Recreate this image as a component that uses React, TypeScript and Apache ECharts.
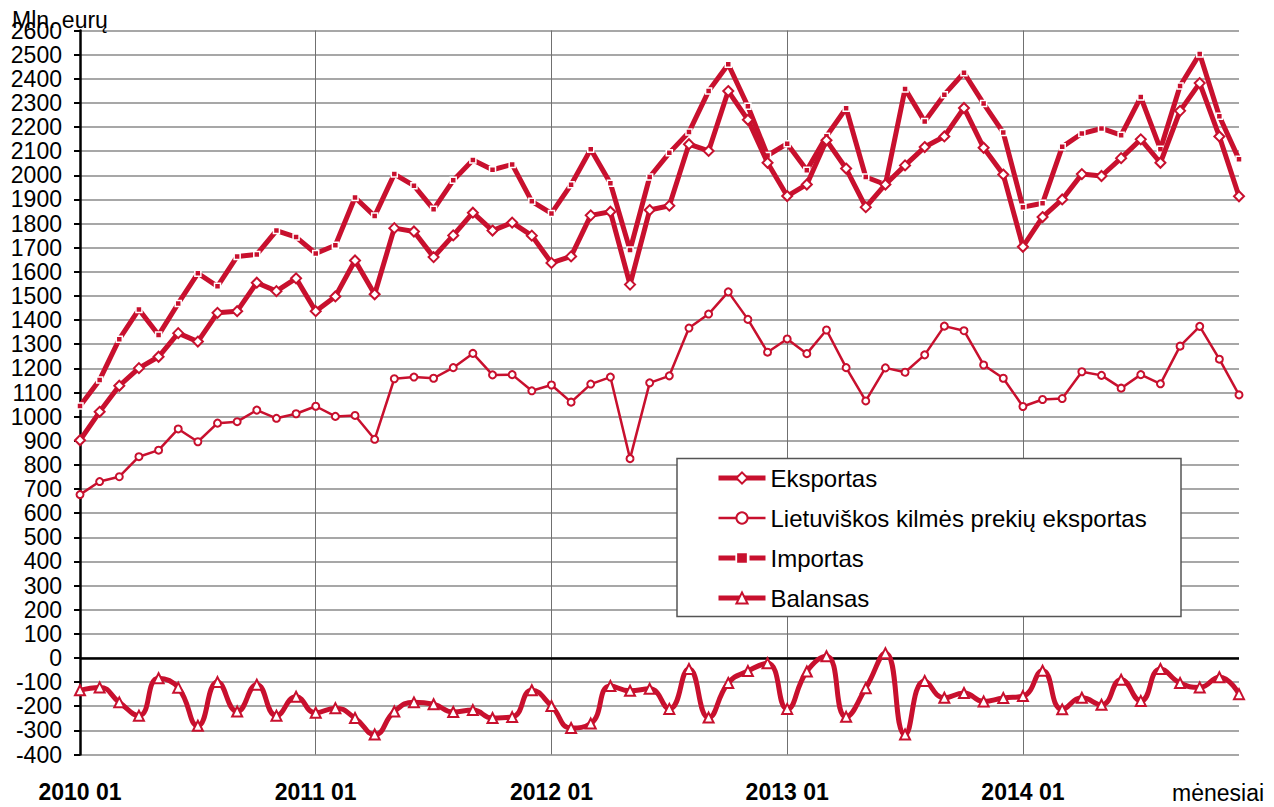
import React, { useEffect, useRef } from "react";
import * as echarts from "echarts";

const years = ["2010", "2011", "2012", "2013", "2014"];
const months = ["01", "02", "03", "04", "05", "06", "07", "08", "09", "10", "11", "12"];
const categories: string[] = [];
years.forEach((y) => months.forEach((m) => categories.push(y + " " + m)));

const eksportas = [
  902, 1020, 1128, 1201, 1248, 1346, 1311, 1430, 1437, 1555,
  1520, 1573, 1437, 1498, 1647, 1507, 1781, 1767, 1661, 1751,
  1845, 1771, 1804, 1750, 1637, 1664, 1834, 1849, 1547, 1856,
  1874, 2129, 2101, 2349, 2230, 2052, 1914, 1962, 2145, 2028,
  1868, 1962, 2041, 2117, 2161, 2279, 2114, 2003, 1704, 1827,
  1900, 2005, 1997, 2071, 2149, 2052, 2267, 2382, 2161, 1913,
];

const lietuviskos = [
  677, 731, 751, 834, 861, 949, 896, 973, 979, 1027,
  993, 1012, 1043, 1001, 1005, 906, 1157, 1164, 1159, 1203,
  1262, 1173, 1174, 1107, 1131, 1060, 1135, 1164, 826, 1140,
  1169, 1367, 1425, 1517, 1403, 1267, 1322, 1261, 1359, 1203,
  1065, 1202, 1184, 1256, 1375, 1356, 1214, 1159, 1042, 1071,
  1075, 1186, 1171, 1118, 1174, 1136, 1292, 1374, 1238, 1090,
];

const importas = [
  1044, 1152, 1321, 1444, 1338, 1469, 1594, 1540, 1664, 1672,
  1771, 1744, 1676, 1710, 1908, 1831, 2005, 1957, 1859, 1979,
  2063, 2023, 2045, 1892, 1842, 1961, 2108, 1967, 1690, 1993,
  2093, 2179, 2349, 2460, 2286, 2082, 2131, 2021, 2162, 2278,
  1993, 1962, 2358, 2223, 2334, 2425, 2297, 2177, 1868, 1884,
  2118, 2173, 2194, 2166, 2324, 2108, 2370, 2503, 2245, 2066,
];

const balansas = [
  -134, -122, -184, -239, -84, -123, -281, -100, -222, -111,
  -239, -161, -227, -208, -249, -317, -222, -184, -192, -224,
  -216, -249, -245, -134, -199, -290, -272, -116, -136, -128,
  -211, -46, -247, -104, -54, -22, -211, -56, 7, -244,
  -125, 20, -317, -95, -165, -145, -180, -166, -158, -53,
  -213, -165, -194, -90, -178, -46, -104, -122, -80, -150,
];

const seriesNames = [
  "Eksportas",
  "Lietuviškos kilmės prekių eksportas",
  "Importas",
  "Balansas",
];

const RED = "#C8102E";
const FONT = "'Liberation Sans', Arial, sans-serif";

export default function App() {
  const ref = useRef<HTMLDivElement>(null);

  useEffect(() => {
    if (!ref.current) return;
    const chart = echarts.init(ref.current, null, { renderer: "svg" });
    chart.setOption({
      animation: false,
      backgroundColor: "#fff",
      grid: {
        left: 80,
        right: 35,
        top: 30.5,
        bottom: 52.5,
        containLabel: false,
        outerBoundsMode: "none",
      },
      xAxis: {
        type: "category",
        data: categories,
        boundaryGap: false,
        axisLine: { show: false },
        axisTick: { show: false },
        axisLabel: {
          interval: (i: number) => i % 12 === 0,
          margin: 26,
          fontSize: 23,
          fontWeight: "bold",
          color: "#000",
          fontFamily: FONT,
        },
        splitLine: {
          show: true,
          interval: (i: number) => i % 12 === 0,
          lineStyle: { color: "#707070", width: 1 },
        },
      },
      yAxis: {
        type: "value",
        min: -400,
        max: 2600,
        interval: 100,
        axisLine: { show: true, lineStyle: { color: "#000", width: 2.5 } },
        axisTick: { show: true, length: 6, lineStyle: { color: "#000", width: 2 } },
        axisLabel: {
          margin: 18,
          fontSize: 23,
          color: "#000",
          fontFamily: FONT,
          formatter: (v: number) => String(v),
        },
        splitLine: { show: true, lineStyle: { color: "#8a8a8a", width: 1.5 } },
      },
      legend: {
        show: true,
        orient: "vertical",
        left: 716,
        top: 466,
        itemWidth: 47,
        itemHeight: 14,
        itemGap: 16,
        padding: 0,
        selectedMode: false,
        z: 10,
        textStyle: { fontSize: 24, color: "#000", fontFamily: FONT, lineHeight: 24 },
        data: [
          { name: seriesNames[0], lineStyle: { width: 5, color: RED } },
          { name: seriesNames[1], lineStyle: { width: 2.5, color: RED } },
          {
            name: seriesNames[2],
            lineStyle: { width: 5, color: RED, type: [17, 5, 4, 5] },
            itemStyle: { color: RED, borderColor: "#fff", borderWidth: 1.5 },
          },
          { name: seriesNames[3], lineStyle: { width: 5, color: RED } },
        ],
      },
      graphic: [
        {
          type: "rect",
          z: 5,
          shape: { x: 677, y: 458.5, width: 504, height: 158 },
          style: { fill: "#fff", stroke: "#555", lineWidth: 1.5 },
        },
        {
          type: "text",
          x: 12,
          y: 8,
          z: 6,
          style: {
            text: "Mln. eurų",
            font: "23px " + FONT,
            fill: "#000",
            verticalAlign: "top",
          },
        },
        {
          type: "text",
          x: 1172,
          y: 781,
          z: 6,
          style: {
            text: "mėnesiai",
            font: "23px " + FONT,
            fill: "#000",
            verticalAlign: "top",
          },
        },
      ],
      series: [
        {
          name: seriesNames[2],
          type: "line",
          data: importas,
          z: 2,
          symbol: "rect",
          symbolSize: 6,
          showAllSymbol: true,
          lineStyle: { color: RED, width: 5 },
          itemStyle: { color: RED, borderColor: "#fff", borderWidth: 1.5 },
        },
        {
          name: seriesNames[3],
          type: "line",
          data: balansas,
          z: 3,
          smooth: 0.5,
          symbol: "triangle",
          symbolSize: 10,
          showAllSymbol: true,
          lineStyle: { color: RED, width: 5 },
          itemStyle: { color: "#fff", borderColor: RED, borderWidth: 2 },
          markLine: {
            silent: true,
            symbol: "none",
            label: { show: false },
            lineStyle: { color: "#000", width: 2.5, type: "solid" },
            data: [{ yAxis: 0 }],
            z: 1,
          },
        },
        {
          name: seriesNames[1],
          type: "line",
          data: lietuviskos,
          z: 3,
          symbol: "circle",
          symbolSize: 7,
          showAllSymbol: true,
          lineStyle: { color: RED, width: 2.5 },
          itemStyle: { color: "#fff", borderColor: RED, borderWidth: 2 },
        },
        {
          name: seriesNames[0],
          type: "line",
          data: eksportas,
          z: 4,
          symbol: "diamond",
          symbolSize: 10,
          showAllSymbol: true,
          lineStyle: { color: RED, width: 5 },
          itemStyle: { color: "#fff", borderColor: RED, borderWidth: 2 },
        },
      ],
    });
    return () => chart.dispose();
  }, []);

  return (
    <div
      ref={ref}
      style={{ position: "absolute", left: 0, top: 0, width: 1274, height: 807 }}
    />
  );
}
